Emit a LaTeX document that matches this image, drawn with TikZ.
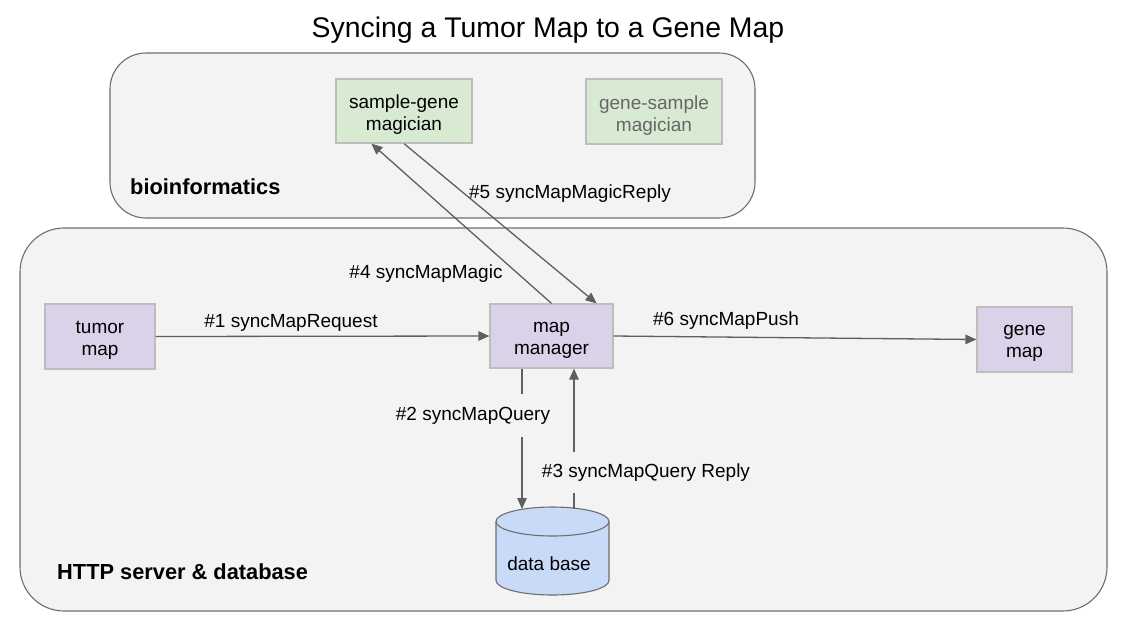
\documentclass[tikz,border=0pt]{standalone}
\usepackage{fontspec}
\setmainfont{Liberation Sans}
\usetikzlibrary{arrows.meta,calc}
\definecolor{bg}{HTML}{F3F3F3}
\definecolor{frame}{HTML}{6E6E6E}
\definecolor{purp}{HTML}{D9D2E9}
\definecolor{grn}{HTML}{D9EAD3}
\definecolor{blu}{HTML}{C9DAF8}
\definecolor{boxline}{HTML}{BDBDBD}
\definecolor{arr}{HTML}{5F5F5F}
\definecolor{dimtext}{HTML}{666666}
\begin{document}
\begin{tikzpicture}[x=1pt,y=-1pt,
  region/.style={draw=frame, fill=bg, line width=1.1pt},
  box/.style={draw=boxline, line width=1.2pt, inner sep=0pt},
  boxtxt/.style={align=center, inner sep=0pt, yshift=-4pt,
    font=\fontsize{19}{22}\selectfont},
  lbl/.style={inner sep=0pt, yshift=-2.5pt, font=\fontsize{19}{22}\selectfont},
  bold/.style={inner sep=0pt, anchor=west, font=\fontsize{21.8}{24}\selectfont\bfseries},
  conn/.style={draw=arr, line width=1.3pt, -{Triangle[length=11pt,width=9.5pt]}},
  cover/.style={lbl, fill=bg},
]
\useasboundingbox[fill=white] (0,0) rectangle (1122,619);

% title
\node[inner sep=0pt, yshift=-3pt, font=\fontsize{28.4}{32}\selectfont] (title) at (548,27) {Syncing a Tumor Map to a Gene Map};

% regions
\draw[region, rounded corners=36pt] (110,53) rectangle (755,218);
\draw[region, rounded corners=44pt] (20,228) rectangle (1107,611);
\node[bold] (biolbl) at (130,187) {bioinformatics};
\node[bold] (httplbl) at (57,572) {HTTP server \& database};

% boxes
\node[box, fill=grn, minimum width=136pt, minimum height=64pt,
  label={[boxtxt]center:{sample-gene\\magician}}] (sg) at (404,111) {};
\node[box, fill=grn, minimum width=136pt, minimum height=65pt,
  label={[boxtxt, text=dimtext]center:{gene-sample\\magician}}] (gs) at (654,111.5) {};
\node[box, fill=purp, minimum width=110pt, minimum height=65pt,
  label={[boxtxt]center:{tumor\\map}}] (tumor) at (100,336.5) {};
\node[box, fill=purp, minimum width=123pt, minimum height=64pt,
  label={[boxtxt]center:{map\\manager}}] (mm) at (551.5,336) {};
\node[box, fill=purp, minimum width=95pt, minimum height=65pt,
  label={[boxtxt]center:{gene\\map}}] (gene) at (1024.5,339.5) {};

% database cylinder
\filldraw[fill=blu, draw=frame, line width=1.1pt]
  (496,521.5) -- (496,580.5) arc[start angle=180, end angle=360, x radius=56.5pt, y radius=14.5pt]
  -- (609,521.5) arc[start angle=0, end angle=180, x radius=56.5pt, y radius=14.5pt] -- cycle;
\draw[draw=frame, line width=1.1pt] (496,521.5) arc[start angle=180, end angle=360, x radius=56.5pt, y radius=14.5pt];
\node[lbl] (db) at (549,561) {data base};
\coordinate (dbin) at (522,509);
\coordinate (dbout) at (574,508.5);

% anchor points on boxes
\coordinate (sgA) at ([xshift=36pt]sg.south west);
\coordinate (mmA) at ([xshift=-17pt]mm.north east);
\coordinate (mmQ) at ([xshift=-29.5pt]mm.south);
\coordinate (mmR) at ([xshift=22.5pt]mm.south);

% connectors
\draw[conn] (tumor.east) -- (mm.west);
\draw[conn] (mm.east) -- (gene.west);
\draw[conn] (mm.north) -- (sgA);
\draw[conn] (sg.south) -- (mmA);
\draw[conn] (mmQ) -- (dbin);
\draw[conn] (dbout) -- (mmR);

% labels
\node[lbl] (l1) at (291,320) {\#1 syncMapRequest};
\node[lbl] (l4) at (426,271) {\#4 syncMapMagic};
\node[lbl] (l5) at (570,191) {\#5 syncMapMagicReply};
\node[lbl] (l6) at (726,318) {\#6 syncMapPush};
\node[cover, inner ysep=13pt] (l2) at (473,413) {\#2 syncMapQuery};
\node[cover, inner ysep=12pt] (l3) at (646,470) {\#3 syncMapQuery Reply};
\end{tikzpicture}
\end{document}
